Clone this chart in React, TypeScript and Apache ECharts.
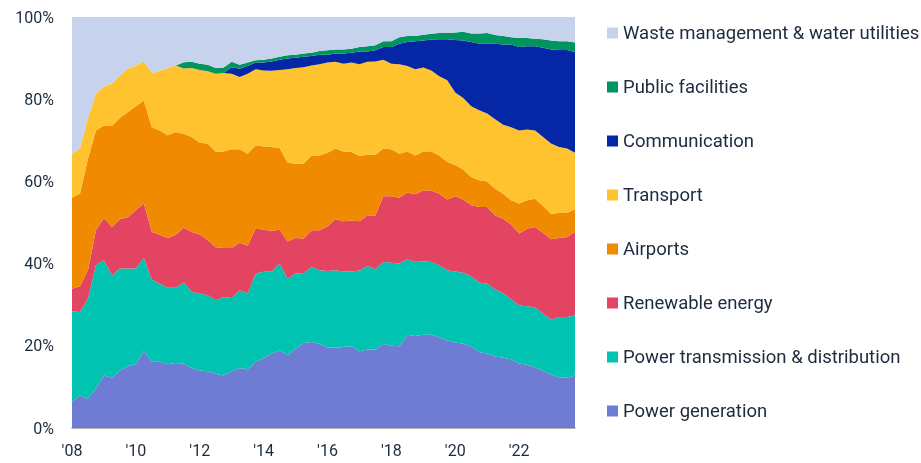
import React, { useEffect, useRef } from 'react';
import * as echarts from 'echarts';

const years = [2008, 2009, 2010, 2011, 2012, 2013, 2014, 2015, 2016, 2017, 2018, 2019, 2020, 2021, 2022, 2023];
const quarters = ['Q1', 'Q2', 'Q3', 'Q4'];
const categories = years.flatMap((y) => quarters.map((q) => `${q} ${y}`));
const xTickLabels = ["'08", "'10", "'12", "'14", "'16", "'18", "'20", "'22"];
const yTickValues = [0, 20, 40, 60, 80, 100];

const powerGeneration = [6.5, 7.9, 7.1, 9.7, 12.8, 12.2, 14.0, 15.1, 15.5, 18.7, 16.1, 16.1, 15.5, 15.8, 15.7, 14.6, 14.0, 13.8, 13.2, 12.8, 13.8, 14.6, 14.3, 16.2, 17.0, 18.1, 18.9, 17.7, 19.3, 20.7, 20.9, 20.5, 19.6, 19.5, 19.7, 19.9, 18.7, 19.1, 19.1, 20.5, 20.0, 19.9, 22.7, 22.4, 22.7, 22.7, 22.1, 21.3, 20.8, 20.5, 19.9, 18.5, 18.1, 17.4, 17.1, 16.7, 15.7, 15.4, 14.8, 13.9, 13.0, 12.3, 12.2, 12.8];
const transmission = [21.9, 20.3, 24.4, 30.0, 28.0, 24.9, 24.8, 23.7, 23.3, 22.7, 20.0, 19.0, 18.6, 18.3, 19.7, 18.5, 18.7, 18.5, 17.9, 19.1, 17.8, 18.9, 18.4, 21.4, 21.0, 20.0, 21.1, 18.6, 18.3, 17.0, 18.3, 17.9, 18.6, 18.9, 18.4, 18.2, 19.6, 20.3, 19.5, 19.9, 20.2, 20.1, 18.3, 18.0, 17.9, 17.7, 17.5, 17.1, 17.3, 17.3, 17.0, 16.9, 17.0, 16.3, 15.7, 14.6, 14.1, 14.2, 14.6, 13.9, 13.4, 14.7, 14.8, 14.6];
const renewable = [5.5, 6.3, 6.9, 8.4, 10.3, 11.8, 12.0, 12.5, 14.2, 13.3, 11.6, 11.9, 12.1, 12.9, 13.3, 14.6, 14.4, 13.4, 12.9, 11.9, 12.2, 11.6, 11.7, 10.9, 10.3, 9.8, 8.3, 9.1, 8.6, 8.4, 8.9, 9.7, 10.8, 12.4, 12.2, 12.4, 12.0, 12.3, 13.1, 16.0, 16.2, 16.0, 16.3, 16.5, 17.2, 17.4, 17.4, 17.2, 18.3, 17.8, 17.3, 18.4, 18.7, 18.0, 18.1, 18.2, 17.5, 18.9, 19.5, 19.7, 19.5, 19.2, 19.5, 20.3];
const airports = [22.1, 22.5, 27.1, 24.3, 22.5, 24.6, 24.6, 25.6, 25.3, 25.0, 25.5, 25.4, 25.0, 25.0, 22.9, 23.1, 22.3, 23.5, 23.2, 23.5, 24.0, 22.7, 22.3, 20.3, 20.2, 20.5, 19.8, 19.2, 18.1, 18.2, 18.2, 18.2, 18.0, 17.2, 17.0, 16.7, 15.9, 14.8, 14.8, 11.6, 11.4, 10.7, 10.0, 9.4, 9.5, 9.5, 9.3, 9.1, 7.6, 7.3, 6.9, 6.5, 6.2, 6.5, 6.1, 5.9, 7.3, 6.9, 6.9, 6.5, 6.2, 6.1, 5.8, 5.5];
const transport = [10.7, 11.1, 9.9, 8.9, 9.4, 10.3, 10.4, 10.5, 9.9, 9.5, 13.2, 14.6, 16.4, 16.2, 15.9, 16.8, 17.7, 17.6, 19.0, 19.1, 18.4, 17.6, 19.5, 18.5, 18.5, 18.5, 19.0, 22.7, 23.3, 23.5, 21.9, 22.2, 21.9, 21.1, 21.3, 21.7, 22.3, 22.6, 22.7, 21.6, 20.8, 21.8, 20.8, 21.0, 20.4, 19.7, 19.3, 19.9, 17.6, 17.4, 17.2, 17.0, 16.5, 16.9, 16.8, 17.8, 17.8, 17.2, 16.6, 16.8, 17.1, 16.1, 15.7, 13.8];
const communication = [0, 0, 0, 0, 0, 0, 0, 0, 0, 0, 0, 0, 0, 0, 0, 0, 0, 0, 0, 0, 1.6, 2.0, 1.9, 1.6, 1.9, 2.3, 2.5, 2.6, 2.5, 2.5, 2.3, 2.3, 1.9, 2.0, 2.5, 2.4, 3.1, 2.5, 2.7, 3.1, 4.1, 5.0, 5.8, 6.8, 6.6, 7.5, 9.0, 10.0, 12.8, 14.0, 15.6, 16.2, 17.0, 18.4, 19.5, 20.1, 20.3, 20.3, 20.5, 21.7, 22.9, 23.6, 24.0, 24.5];
const publicFacilities = [0, 0, 0, 0, 0, 0, 0, 0, 0, 0, 0, 0, 0, 0, 1.5, 1.5, 1.5, 1.6, 1.4, 1.3, 1.3, 1.0, 0.8, 0.6, 0.7, 0.7, 0.7, 0.8, 0.7, 0.8, 0.8, 0.9, 1.1, 1.0, 1.0, 1.0, 1.1, 1.3, 1.2, 1.4, 1.4, 1.6, 1.5, 1.3, 1.4, 1.4, 1.5, 1.5, 1.8, 2.1, 2.1, 2.5, 2.6, 2.1, 2.1, 1.8, 2.2, 2.0, 1.8, 2.1, 2.2, 2.1, 2.1, 2.3];
const waste = [33.3, 31.9, 24.6, 18.7, 17.0, 16.2, 14.2, 12.6, 11.8, 10.8, 13.6, 13.0, 12.4, 11.8, 11.0, 10.9, 11.4, 11.6, 12.4, 12.3, 10.9, 11.6, 11.1, 10.5, 10.4, 10.1, 9.7, 9.3, 9.2, 8.9, 8.7, 8.3, 8.1, 7.9, 7.9, 7.7, 7.3, 7.1, 6.9, 5.9, 5.9, 4.9, 4.6, 4.6, 4.3, 4.1, 3.9, 3.9, 3.8, 3.6, 4.0, 4.0, 3.9, 4.4, 4.6, 4.9, 5.1, 5.1, 5.3, 5.4, 5.7, 5.9, 5.9, 6.2];

const seriesDefs = [
  { name: 'Power generation', data: powerGeneration, color: '#6e7dd3' },
  { name: 'Power transmission & distribution', data: transmission, color: '#00c3b2' },
  { name: 'Renewable energy', data: renewable, color: '#e24462' },
  { name: 'Airports', data: airports, color: '#f08a00' },
  { name: 'Transport', data: transport, color: '#ffc330' },
  { name: 'Communication', data: communication, color: '#0527a6' },
  { name: 'Public facilities', data: publicFacilities, color: '#00945e' },
  { name: 'Waste management & water utilities', data: waste, color: '#c7d2ec' },
];

const textColor = '#1c2b3d';
const font = 'Roboto, "Noto Sans", sans-serif';

export default function App() {
  const ref = useRef<HTMLDivElement>(null);
  useEffect(() => {
    const chart = echarts.init(ref.current as HTMLDivElement, null, { renderer: 'svg' });
    chart.setOption({
      animation: false,
      textStyle: { fontFamily: font },
      grid: { left: 72, right: 346, top: 17, bottom: 35, containLabel: false },
      legend: {
        orient: 'vertical',
        left: 607,
        top: 23,
        padding: 0,
        itemWidth: 11,
        itemHeight: 11,
        itemGap: 34,
        icon: 'rect',
        selectedMode: false,
        data: seriesDefs.map((s) => s.name).reverse(),
        textStyle: { fontSize: 18.5, color: textColor, fontFamily: font, lineHeight: 20 },
      },
      xAxis: {
        type: 'category',
        data: categories,
        boundaryGap: false,
        axisLine: { show: true, lineStyle: { color: '#9a9a9a', width: 1.5 } },
        axisTick: { show: false },
        axisLabel: {
          interval: 7,
          margin: 14,
          fontSize: 16,
          color: textColor,
          fontFamily: font,
          formatter: (_v: string, idx: number) => xTickLabels[idx / 8] ?? '',
        },
        splitLine: { show: false },
      },
      yAxis: {
        type: 'value',
        min: yTickValues[0],
        max: yTickValues[yTickValues.length - 1],
        interval: 20,
        axisLine: { show: false },
        axisTick: { show: false },
        splitLine: { show: false },
        axisLabel: {
          margin: 18,
          fontSize: 16,
          color: textColor,
          fontFamily: font,
          formatter: '{value}%',
        },
      },
      series: seriesDefs.map((s) => ({
        name: s.name,
        type: 'line',
        stack: 'total',
        data: s.data,
        color: s.color,
        symbol: 'none',
        showSymbol: false,
        lineStyle: { width: 0 },
        areaStyle: { color: s.color, opacity: 1 },
        emphasis: { disabled: true },
        silent: true,
      })),
    });
    return () => chart.dispose();
  }, []);
  return <div ref={ref} style={{ position: 'fixed', left: 0, top: 0, width: 921, height: 463 }} />;
}
